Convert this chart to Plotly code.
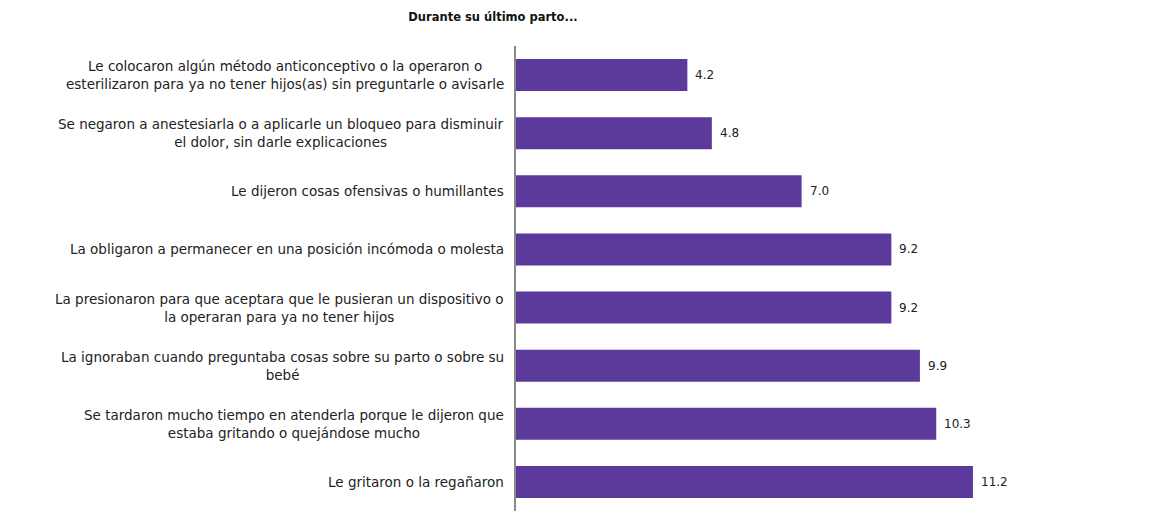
import plotly.graph_objects as go

categories = [
    "Le colocaron algún método anticonceptivo o la operaron o<br>esterilizaron para ya no tener hijos(as) sin preguntarle o avisarle",
    "Se negaron a anestesiarla o a aplicarle un bloqueo para disminuir<br>el dolor, sin darle explicaciones",
    "Le dijeron cosas ofensivas o humillantes",
    "La obligaron a permanecer en una posición incómoda o molesta",
    "La presionaron para que aceptara que le pusieran un dispositivo o<br>la operaran para ya no tener hijos",
    "La ignoraban cuando preguntaba cosas sobre su parto o sobre su<br>bebé",
    "Se tardaron mucho tiempo en atenderla porque le dijeron que<br>estaba gritando o quejándose mucho",
    "Le gritaron o la regañaron",
]
values = [4.2, 4.8, 7.0, 9.2, 9.2, 9.9, 10.3, 11.2]
value_labels = ["4.2", "4.8", "7.0", "9.2", "9.2", "9.9", "10.3", "11.2"]
title = "Durante su último parto..."

ids = list(range(len(categories)))

fig = go.Figure(go.Bar(
    x=values, y=ids, orientation="h",
    marker=dict(color="#5c3a9c", line=dict(width=0)),
    width=0.55, hoverinfo="skip",
))

for i, (c, v, t) in enumerate(zip(categories, values, value_labels)):
    fig.add_annotation(x=0, xref="paper", y=i, yref="y", text=c, showarrow=False,
                       xanchor="right", align="center", xshift=-10,
                       font=dict(family="DejaVu Sans", size=13.5, color="#222"))
    fig.add_annotation(x=v, xref="x", y=i, yref="y", text=t, showarrow=False,
                       xanchor="left", xshift=6,
                       font=dict(family="DejaVu Sans", size=12, color="#222"))

fig.update_layout(
    width=1143, height=509,
    margin=dict(l=508, r=23, t=38, b=6),
    paper_bgcolor="white", plot_bgcolor="white",
    showlegend=False,
    title=dict(text="<b>" + title + "</b>", x=0.4243, xanchor="center", y=0.982, yanchor="middle",
               font=dict(family="DejaVu Sans", size=11.5, color="#111")),
    xaxis=dict(range=[0, 15], visible=False, fixedrange=True),
    yaxis=dict(autorange="reversed", showticklabels=False, showgrid=False, zeroline=False,
               showline=True, linecolor="#8a8a8a", linewidth=2, ticks="", fixedrange=True),
)

fig.write_html("out.html")
